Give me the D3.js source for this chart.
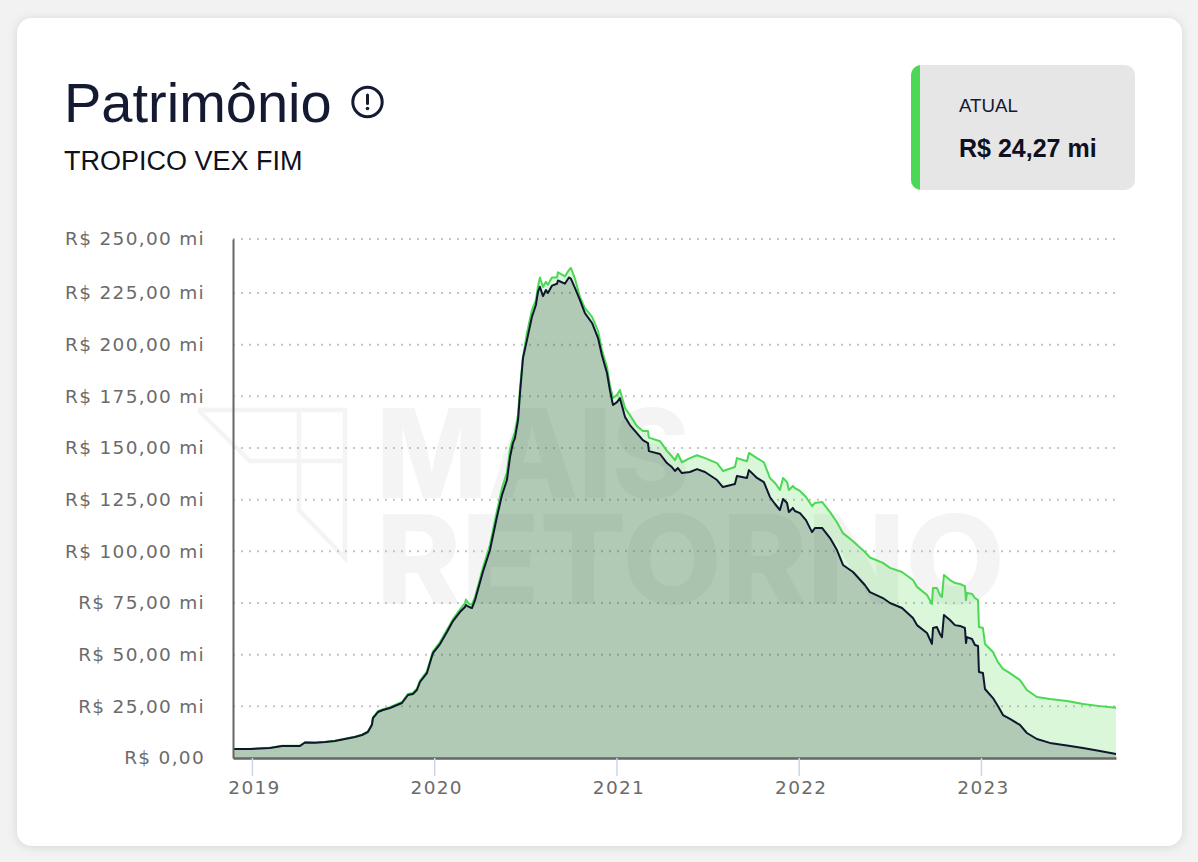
<!DOCTYPE html>
<html lang="pt-BR">
<head>
<meta charset="utf-8">
<title>Patrimônio</title>
<script src="https://cdn.jsdelivr.net/npm/d3@7/dist/d3.min.js"></script>
<style>
html,body{margin:0;padding:0;background:#f2f2f2;width:1198px;height:862px;overflow:hidden}
svg{display:block}
.hdr{font-family:"Liberation Sans",Arial,sans-serif}
.tick text{font-family:"DejaVu Sans",sans-serif;fill:#6b6b6b;font-size:18.5px;letter-spacing:1.3px}
</style>
</head>
<body>
<script>
const anos = [2018.896,2018.989,2019.099,2019.165,2019.263,2019.291,2019.346,2019.401,2019.455,2019.510,2019.565,2019.604,2019.636,2019.658,2019.664,2019.691,2019.719,2019.757,2019.823,2019.856,2019.883,2019.905,2019.922,2019.960,2019.993,2020.032,2020.070,2020.103,2020.141,2020.169,2020.174,2020.191,2020.207,2020.224,2020.267,2020.306,2020.344,2020.372,2020.399,2020.416,2020.432,2020.443,2020.460,2020.471,2020.487,2020.509,2020.536,2020.558,2020.569,2020.580,2020.597,2020.613,2020.624,2020.646,2020.674,2020.679,2020.717,2020.739,2020.750,2020.772,2020.800,2020.827,2020.866,2020.899,2020.920,2020.948,2020.964,2020.981,2021.003,2021.019,2021.047,2021.074,2021.112,2021.145,2021.173,2021.178,2021.239,2021.277,2021.304,2021.321,2021.337,2021.359,2021.403,2021.442,2021.486,2021.552,2021.584,2021.650,2021.661,2021.716,2021.727,2021.771,2021.809,2021.842,2021.870,2021.897,2021.914,2021.936,2021.946,2021.968,2021.979,2022.007,2022.040,2022.073,2022.089,2022.128,2022.172,2022.210,2022.243,2022.298,2022.363,2022.391,2022.462,2022.501,2022.567,2022.627,2022.649,2022.704,2022.731,2022.737,2022.758,2022.775,2022.786,2022.797,2022.830,2022.857,2022.885,2022.912,2022.918,2022.923,2022.951,2022.967,2022.984,2022.989,2023.011,2023.022,2023.066,2023.093,2023.121,2023.159,2023.214,2023.252,2023.307,2023.378,2023.472,2023.560,2023.653,2023.741];
const patrimonioLiquido = [4.35,4.35,4.84,5.81,5.81,7.5,7.4,7.74,8.22,9.19,10.16,11.13,12.58,15.97,19.35,22.25,23.22,24.19,26.61,30.48,30.96,32.9,36.77,41.12,50.8,55.15,60.96,66.28,70.63,73.05,74.02,73.05,72.57,76.44,89.99,100.63,116.6,127.24,134.5,145.6,152.4,154.8,163.5,176.6,193.5,202.2,213.4,219.2,225.4,227.9,223.5,226.4,225,228.4,229.3,230.8,229.3,232.2,231.7,227.4,221.6,215.3,210.5,203.2,195,186.3,178,170.8,172.2,174.2,165,161.1,157.2,153.8,152.4,148.5,147.1,142.7,140.8,138.9,140.3,137.9,138.4,139.8,138.4,134.5,131.1,132.6,136.4,135.5,139.3,135.5,133.5,126.3,122.9,120,125.3,123.4,119,121,119.5,118.5,115.1,109.3,111.3,111.3,106.4,100.6,93.4,90,83.7,80.3,77.4,75,72.6,67.7,64.3,60.5,55.2,62.9,63.4,60,58.5,69.2,66.8,64.3,63.9,62.9,55.6,58.5,57.6,54.7,54.2,41.6,41.1,33.4,29,25.2,20.8,18.9,16,12.1,9.2,7.3,6,4.8,3.4,1.9];
const patrimonioAtual = [4.4,4.4,4.9,5.9,5.9,7.6,7.5,7.8,8.3,9.3,10.3,11.3,12.8,16.2,19.6,22.6,23.6,24.6,27.1,31,31.5,33.5,37.4,41.9,51.6,56.1,62,67.2,71.8,75,76.7,74.5,74.2,77.9,91.9,103.2,119.4,130.6,138.2,149.5,154.8,157.7,166,179.3,194,205.7,216.7,221.5,227.8,232.2,227.8,230.2,228.8,232.2,232.2,234.6,232.7,235.6,236.6,231.7,223,217.7,213.4,206.7,197.4,189.2,180.5,174.2,175.7,178.1,169.3,165.9,160.6,158.2,158.2,155,153.3,148.6,146,144.1,147.1,143.1,145.1,146.5,145.1,142.7,138.9,140.8,145.1,143.6,147.6,145.1,143.1,135.5,133.1,129.7,135.5,133.5,129.7,131.6,130.6,129.2,126.3,121.9,123.4,123.9,119,114.1,108.8,104.9,99.7,97,94.4,92,90,86.1,82.8,78.9,74.5,82.3,82.3,78.9,77.9,88.5,86.1,84.7,84.2,83.2,76.4,79.9,79.4,77.4,76.4,63.4,62.9,55.2,51.3,46.4,43.1,41.1,37.7,32.9,29.5,28.5,27.6,26.1,25.1,24.27];
const yTicks = [0,25,50,75,100,125,150,175,200,225,250];
const yLabels = ["R$ 0,00","R$ 25,00 mi","R$ 50,00 mi","R$ 75,00 mi","R$ 100,00 mi","R$ 125,00 mi","R$ 150,00 mi","R$ 175,00 mi","R$ 200,00 mi","R$ 225,00 mi","R$ 250,00 mi"];
const xTicks = [2019,2020,2021,2022,2023];
const xLabels = ["2019","2020","2021","2022","2023"];

const VERDE = "#4bd854", ESCURO = "#0f172e", TINTA = "#141a32";
const svg = d3.select("body").append("svg").attr("width",1198).attr("height",862);

// cartão
const defs = svg.append("defs");
const f = defs.append("filter").attr("id","sombra").attr("x","-5%").attr("y","-5%").attr("width","110%").attr("height","110%");
f.append("feDropShadow").attr("dx",0).attr("dy",1).attr("stdDeviation",5).attr("flood-color","#000").attr("flood-opacity",.12);
svg.append("rect").attr("x",17).attr("y",18).attr("width",1165).attr("height",828).attr("rx",15).attr("fill","#fff").attr("filter","url(#sombra)");

// marca d'água
const wm = svg.append("g");
wm.append("path").attr("d",d3.line()([[198,410],[345,410],[345,558],[299,510],[299,410]])).attr("fill","none").attr("stroke","#f4f4f4").attr("stroke-width",4.5);
wm.append("path").attr("d",d3.line()([[198,410],[250,461],[345,461]])).attr("fill","none").attr("stroke","#f4f4f4").attr("stroke-width",4.5);
wm.append("text").text("MAIS").attr("x",376).attr("y",498).attr("textLength",314).attr("lengthAdjust","spacingAndGlyphs")
  .attr("font-family","Inter").attr("font-weight",800).attr("font-size",124).attr("fill","#f4f4f4");
wm.append("text").text("RETORNO").attr("x",376).attr("y",604).attr("textLength",629).attr("lengthAdjust","spacingAndGlyphs")
  .attr("font-family","Inter").attr("font-weight",800).attr("font-size",124).attr("fill","#f4f4f4");

// escalas
const x = d3.scaleLinear().domain([2018.896,2023.741]).range([233,1116]);
const y = d3.scaleLinear().domain([0,225,250]).range([758,293,239]);

// grade
svg.append("g").selectAll("line").data(yTicks.slice(1)).join("line")
  .attr("x1",233).attr("x2",1116).attr("y1",d=>y(d)).attr("y2",d=>y(d))
  .attr("stroke","#c4c4c4").attr("stroke-width",2).attr("stroke-dasharray","2 6");

// séries
const idx = d3.range(anos.length);
const area = s => d3.area().x(i=>x(anos[i])).y0(y(0)).y1(i=>y(s[i]))(idx);
const linha = s => d3.line().x(i=>x(anos[i])).y(i=>y(s[i]))(idx);
svg.append("path").attr("d",area(patrimonioAtual)).attr("fill","#46d741").attr("fill-opacity",.2);
svg.append("path").attr("d",area(patrimonioLiquido)).attr("fill",ESCURO).attr("fill-opacity",.2);
svg.append("path").attr("d",linha(patrimonioAtual)).attr("fill","none").attr("stroke",VERDE).attr("stroke-width",2).attr("stroke-linejoin","round");
svg.append("path").attr("d",linha(patrimonioLiquido)).attr("fill","none").attr("stroke",ESCURO).attr("stroke-width",2).attr("stroke-linejoin","round");

// eixos
const eixoY = svg.append("g").attr("transform","translate(233,0)")
  .call(d3.axisLeft(y).tickValues(yTicks).tickFormat((d,i)=>yLabels[i]).tickSize(0).tickPadding(28));
eixoY.select(".domain").attr("stroke","#666").attr("stroke-width",2);
const eixoX = svg.append("g").attr("transform","translate(0,758)")
  .call(d3.axisBottom(x).tickValues(xTicks).tickFormat((d,i)=>xLabels[i]).tickSize(18).tickSizeOuter(0).tickPadding(5));
eixoX.select(".domain").attr("stroke","#666").attr("stroke-width",2.5);
eixoX.selectAll(".tick line").attr("stroke","#ccd6eb").attr("stroke-width",1.5);
eixoX.selectAll(".tick text").attr("dx",2);

// cabeçalho
svg.append("text").attr("class","hdr").text("Patrimônio").attr("x",64).attr("y",122).attr("font-size",56).attr("fill",TINTA);
svg.append("text").attr("class","hdr").text("TROPICO VEX FIM").attr("x",64).attr("y",170).attr("font-size",27).attr("fill","#0f1020");
const ic = svg.append("g").attr("transform","translate(367.5,102)");
ic.append("circle").attr("r",14.7).attr("fill","none").attr("stroke",TINTA).attr("stroke-width",3);
ic.append("line").attr("x1",0).attr("x2",0).attr("y1",-7).attr("y2",1.5).attr("stroke",TINTA).attr("stroke-width",3).attr("stroke-linecap","round");
ic.append("circle").attr("cy",6.5).attr("r",1.8).attr("fill",TINTA);

// destaque
const card = svg.append("g");
defs.append("clipPath").attr("id","cx").append("rect").attr("x",911).attr("y",65).attr("width",224).attr("height",125).attr("rx",10);
card.append("rect").attr("x",911).attr("y",65).attr("width",224).attr("height",125).attr("fill","#e6e6e6").attr("clip-path","url(#cx)");
card.append("rect").attr("x",911).attr("y",65).attr("width",9).attr("height",125).attr("fill",VERDE).attr("clip-path","url(#cx)");
card.append("text").attr("class","hdr").text("ATUAL").attr("x",959).attr("y",112).attr("font-size",18.7).attr("fill",TINTA);
card.append("text").attr("class","hdr").text("R$ 24,27 mi").attr("x",959).attr("y",157).attr("font-size",25).attr("font-weight",700).attr("fill","#0f1020");
</script>
</body>
</html>
